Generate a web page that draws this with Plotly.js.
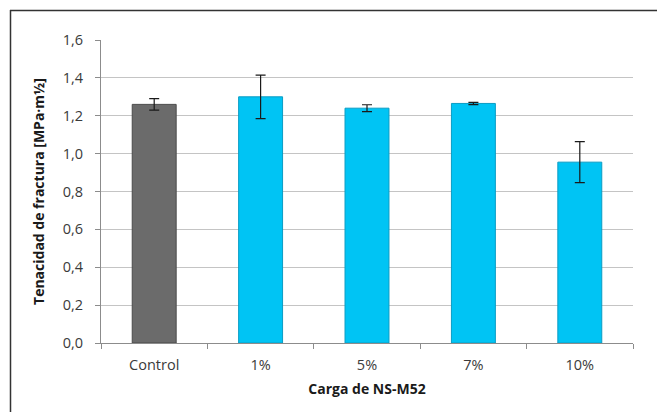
<!DOCTYPE html>
<html>
<head>
<meta charset="utf-8">
<script src="https://cdn.plot.ly/plotly-3.0.1.min.js"></script>
<style>body{margin:0;background:#fff}#chart{width:657px;height:412px}</style>
</head>
<body>
<div id="chart"></div>
<script>
const categories = ["Control", "1%", "5%", "7%", "10%"];
const values = [1.26, 1.30, 1.24, 1.265, 0.955];
const errors = [0.03, 0.115, 0.018, 0.006, 0.108];
const barColors = ["#6b6b6b", "#00c4f4", "#00c4f4", "#00c4f4", "#00c4f4"];
const lineColors = ["#4a4a4a", "#0a9cc4", "#0a9cc4", "#0a9cc4", "#0a9cc4"];
const yTicks = [0, 0.2, 0.4, 0.6, 0.8, 1.0, 1.2, 1.4, 1.6];
const yTickText = ["0,0", "0,2", "0,4", "0,6", "0,8", "1,0", "1,2", "1,4", "1,6"];

const L = 101, R = 24, T = 40, B = 69, W = 657, H = 412;
const pw = W - L - R, ph = H - T - B;

const trace = {
  type: "bar",
  x: categories,
  y: values,
  marker: { color: barColors, line: { color: lineColors, width: 1 } },
  error_y: { type: "data", array: errors, visible: true, color: "#1a1a1a", thickness: 1.2, width: 5 },
  hoverinfo: "none"
};

const layout = {
  width: W, height: H,
  margin: { l: L, r: R, t: T, b: B },
  paper_bgcolor: "#fff", plot_bgcolor: "#fff",
  showlegend: false,
  bargap: 0.587,
  font: { family: "Open Sans, Liberation Sans, sans-serif", color: "#333", size: 14 },
  xaxis: {
    type: "category",
    showline: true, linecolor: "#8c8c8c", linewidth: 1,
    ticks: "outside", tickson: "boundaries", ticklen: 5, tickcolor: "#8c8c8c",
    ticklabelstandoff: 9,
    tickfont: { size: 14.5, color: "#3a3a3a" },
    title: { text: "<b>Carga de NS-M52</b>", font: { size: 14, color: "#1a1a1a" }, standoff: 10 }
  },
  yaxis: {
    range: [0, 1.6],
    tickvals: yTicks, ticktext: yTickText,
    showline: true, linecolor: "#8c8c8c", linewidth: 1,
    ticks: "outside", ticklen: 5, tickcolor: "#8c8c8c",
    ticklabelstandoff: 9,
    showgrid: true, gridcolor: "#c4c4c4", gridwidth: 1,
    zeroline: false,
    tickfont: { size: 14.5, color: "#3a3a3a" },
    title: { text: "<b>Tenacidad de fractura [MPa·m½]</b>", font: { size: 14, color: "#1a1a1a" }, standoff: 14 }
  },
  shapes: [
    { type: "line", xref: "paper", yref: "paper",
      x0: (10 - L) / pw, x1: (W + 5 - L) / pw, y0: 1 + (T - 10.5) / ph, y1: 1 + (T - 10.5) / ph,
      line: { color: "#333", width: 1.5 } },
    { type: "line", xref: "paper", yref: "paper",
      x0: (10.5 - L) / pw, x1: (10.5 - L) / pw, y0: 1 + (T - 10) / ph, y1: -(B + 5) / ph,
      line: { color: "#333", width: 1.5 } }
  ]
};

Plotly.newPlot("chart", [trace], layout, { displayModeBar: false, staticPlot: true });
</script>
</body>
</html>
